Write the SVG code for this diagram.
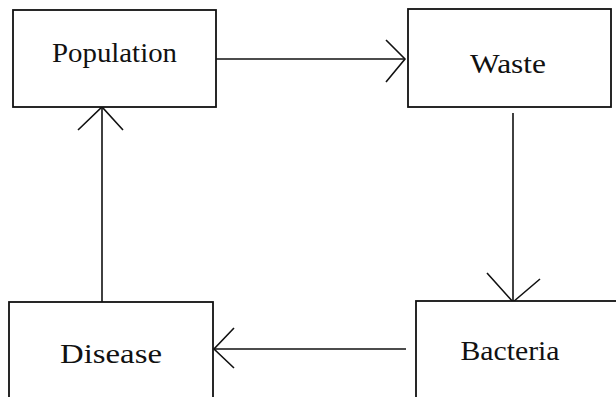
<svg xmlns="http://www.w3.org/2000/svg" width="616" height="397" viewBox="0 0 616 397">
<style>
.box{fill:#fff;stroke:#111;stroke-width:1.8}
.lbl{font-family:"Liberation Serif","Times New Roman",serif;font-size:28px;fill:#111;text-anchor:middle}
.ln{fill:none;stroke:#111;stroke-width:1.6}
</style>
<rect width="616" height="397" fill="#fff"/>
<g id="connectors">
<path class="ln" d="M216 59H405"/>
<path class="ln" d="M386 40L405 59L386 82"/>
<path class="ln" d="M513 113V302"/>
<path class="ln" d="M487 273L513 302L540 279"/>
<path class="ln" d="M406 349H214"/>
<path class="ln" d="M234 328L214 349L234 368"/>
<path class="ln" d="M102 302V107"/>
<path class="ln" d="M78 130L102 107L123 130"/>
</g>
<g id="population">
<rect class="box" x="13" y="10" width="203" height="97"/>
<text class="lbl" x="114.5" y="62" textLength="125" lengthAdjust="spacingAndGlyphs">Population</text>
</g>
<g id="waste">
<rect class="box" x="408" y="9" width="203" height="98"/>
<text class="lbl" x="508" y="73" textLength="76" lengthAdjust="spacingAndGlyphs">Waste</text>
</g>
<g id="disease">
<rect class="box" x="9" y="302" width="204" height="100"/>
<text class="lbl" x="111" y="363" textLength="102" lengthAdjust="spacingAndGlyphs">Disease</text>
</g>
<g id="bacteria">
<rect class="box" x="416" y="301" width="210" height="100"/>
<text class="lbl" x="510" y="360" textLength="99" lengthAdjust="spacingAndGlyphs">Bacteria</text>
</g>
</svg>
